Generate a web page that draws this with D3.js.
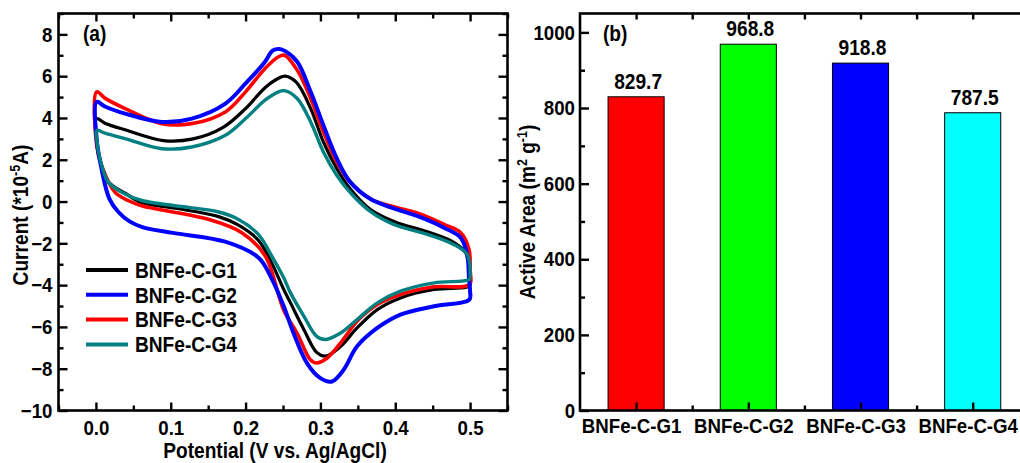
<!DOCTYPE html>
<html>
<head>
<meta charset="utf-8">
<script src="https://cdn.jsdelivr.net/npm/d3@7"></script>
<style>
  html, body { margin: 0; padding: 0; background: #fff; }
  svg { display: block; }
  text { font-family: "Liberation Sans", Arial, sans-serif; font-weight: bold; fill: #000; }
</style>
</head>
<body>
<svg id="fig" width="1020" height="463"></svg>
<script>
// ---- data ----------------------------------------------------------------
const samples = ["BNFe-C-G1", "BNFe-C-G2", "BNFe-C-G3", "BNFe-C-G4"];
const activeArea = [829.7, 968.8, 918.8, 787.5];           // m^2 g^-1

// Cyclic voltammograms: [potential (V vs. Ag/AgCl), current (*10^-5 A)]
// forward sweep 0 -> 0.5 V, then reverse sweep 0.5 -> 0 V
const cvG1 = [
  [0.001, 3.97], [0.012, 3.75], [0.04, 3.42], [0.09, 2.92], [0.13, 3.0], [0.17, 3.55],
  [0.2, 4.45], [0.226, 5.45], [0.244, 5.9], [0.253, 6.0], [0.268, 5.7], [0.287, 4.45],
  [0.304, 2.85], [0.322, 1.57], [0.34, 0.6], [0.367, -0.38], [0.4, -0.98], [0.443, -1.45],
  [0.478, -1.95], [0.494, -2.45], [0.499, -3.2], [0.5, -4.0],
  [0.495, -4.1], [0.452, -4.21], [0.407, -4.61], [0.376, -5.17], [0.349, -6.05], [0.327, -6.93],
  [0.307, -7.4], [0.295, -7.22], [0.278, -6.13], [0.26, -4.85], [0.251, -4.21], [0.235, -2.95],
  [0.217, -1.85], [0.19, -1.12], [0.164, -0.72], [0.106, -0.32], [0.061, -0.05], [0.039, 0.4],
  [0.0165, 0.95], [0.0054, 2.0], [0.001, 2.8]
];
const cvG2 = [
  [0.001, 4.77], [0.012, 4.55], [0.039, 4.21], [0.088, 3.81], [0.128, 3.97], [0.173, 4.69],
  [0.2, 5.65], [0.226, 6.69], [0.236, 7.22], [0.245, 7.3], [0.253, 7.2], [0.269, 6.69],
  [0.287, 5.25], [0.304, 3.65], [0.322, 2.05], [0.34, 0.93], [0.367, 0.12], [0.398, -0.33],
  [0.429, -0.69], [0.465, -1.25], [0.4875, -1.73], [0.4964, -2.61], [0.4986, -3.73], [0.5, -4.29],
  [0.499, -4.69], [0.452, -5.01], [0.407, -5.41], [0.376, -6.05], [0.349, -6.93], [0.331, -8.05],
  [0.3155, -8.61], [0.3, -8.45], [0.282, -7.73], [0.264, -6.29], [0.251, -5.01], [0.235, -3.7],
  [0.2174, -2.69], [0.1727, -1.92], [0.1026, -1.5], [0.062, -1.22], [0.045, -0.95], [0.03, -0.5],
  [0.018, 0.13], [0.0075, 1.57], [0.001, 3.0]
];
const cvG3 = [
  [0.001, 5.25], [0.012, 4.95], [0.039, 4.45], [0.088, 3.73], [0.128, 3.73], [0.173, 4.29],
  [0.2, 5.25], [0.226, 6.37], [0.244, 6.93], [0.252, 7.0], [0.269, 6.29], [0.287, 4.93],
  [0.304, 3.33], [0.322, 1.89], [0.34, 0.93], [0.367, 0.12], [0.398, -0.25], [0.432, -0.58],
  [0.465, -1.09], [0.4875, -1.49], [0.4986, -2.29], [0.5, -3.25],
  [0.499, -3.97], [0.452, -4.08], [0.407, -4.45], [0.376, -4.93], [0.349, -5.73], [0.327, -6.77],
  [0.309, -7.49], [0.295, -7.73], [0.2866, -7.57], [0.2687, -6.29], [0.251, -5.2], [0.2263, -2.61],
  [0.195, -1.49], [0.15, -0.85], [0.083, -0.37], [0.061, -0.2], [0.043, 0.05], [0.0254, 0.45],
  [0.0075, 1.73], [0.001, 2.69]
];
const cvG4 = [
  [0.001, 3.41], [0.012, 3.28], [0.04, 3.0], [0.088, 2.53], [0.128, 2.61], [0.173, 3.17],
  [0.2, 3.97], [0.226, 4.85], [0.244, 5.25], [0.253, 5.3], [0.269, 4.93], [0.287, 3.81],
  [0.304, 2.37], [0.322, 1.25], [0.342, 0.35], [0.367, -0.48], [0.398, -1.09], [0.443, -1.57],
  [0.478, -2.05], [0.496, -2.53], [0.5, -3.57],
  [0.499, -3.73], [0.452, -3.89], [0.407, -4.29], [0.376, -4.85], [0.349, -5.65], [0.327, -6.29],
  [0.307, -6.6], [0.295, -6.45], [0.278, -5.49], [0.26, -4.37], [0.251, -3.65], [0.235, -2.61],
  [0.217, -1.57], [0.19, -0.85], [0.164, -0.5], [0.106, -0.2], [0.061, 0.05], [0.039, 0.36],
  [0.0165, 0.93], [0.0054, 2.05], [0.001, 3.0]
];

const potentialTicks = [0.0, 0.1, 0.2, 0.3, 0.4, 0.5];
const potentialMinor = [-0.05, 0.05, 0.15, 0.25, 0.35, 0.45, 0.55];
const currentTicks = [-10, -8, -6, -4, -2, 0, 2, 4, 6, 8];
const currentMinor = [-9, -7, -5, -3, -1, 1, 3, 5, 7, 9];
const areaTicks = [0, 200, 400, 600, 800, 1000];
const areaMinor = [100, 300, 500, 700, 900];

// ---- drawing -------------------------------------------------------------
const svg = d3.select("#fig");
const TICK_FONT = 21;
const LABEL_FONT = 21.5;
const SQUEEZE = 0.89;            // narrow, Arial-like export look

const plotTop = 13.5, plotBottom = 410.5;

function styleAxis(g) {
  g.attr("font-size", null).attr("font-family", null);
  g.select(".domain").remove();
  g.selectAll(".tick line").attr("stroke", "#000").attr("stroke-width", 2.4);
  g.selectAll(".tick text").style("font-size", TICK_FONT + "px");
}

function frame(x0, x1) {
  svg.append("rect")
    .attr("x", x0).attr("y", plotTop)
    .attr("width", x1 - x0).attr("height", plotBottom - plotTop)
    .attr("fill", "none").attr("stroke", "#000").attr("stroke-width", 2.6);
}

// ===== panel (a): cyclic voltammetry =====
const xA = d3.scaleLinear().domain([-0.05, 0.55]).range([58.5, 507.5]);
const yA = d3.scaleLinear().domain([-10, 9]).range([plotBottom, plotTop]);

const gA = svg.append("g");

// bottom axis
gA.append("g").attr("transform", `translate(0,${plotBottom})`)
  .call(d3.axisBottom(xA).tickValues(potentialTicks).tickSize(-8).tickPadding(9.5).tickFormat(d3.format(".1f")))
  .call(styleAxis);
gA.append("g").attr("transform", `translate(0,${plotBottom})`)
  .call(d3.axisBottom(xA).tickValues(potentialMinor).tickSize(-5).tickFormat(""))
  .call(styleAxis);
// top mirror
gA.append("g").attr("transform", `translate(0,${plotTop})`)
  .call(d3.axisTop(xA).tickValues(potentialTicks).tickSize(-8).tickFormat(""))
  .call(styleAxis);
gA.append("g").attr("transform", `translate(0,${plotTop})`)
  .call(d3.axisTop(xA).tickValues(potentialMinor).tickSize(-5).tickFormat(""))
  .call(styleAxis);
// left axis
gA.append("g").attr("transform", `translate(${xA.range()[0]},0)`)
  .call(d3.axisLeft(yA).tickValues(currentTicks).tickSize(-9).tickPadding(6).tickFormat(d3.format("d")))
  .call(styleAxis);
gA.append("g").attr("transform", `translate(${xA.range()[0]},0)`)
  .call(d3.axisLeft(yA).tickValues(currentMinor).tickSize(-5).tickFormat(""))
  .call(styleAxis);
// right mirror
gA.append("g").attr("transform", `translate(${xA.range()[1]},0)`)
  .call(d3.axisRight(yA).tickValues(currentTicks).tickSize(-9).tickFormat(""))
  .call(styleAxis);
gA.append("g").attr("transform", `translate(${xA.range()[1]},0)`)
  .call(d3.axisRight(yA).tickValues(currentMinor).tickSize(-5).tickFormat(""))
  .call(styleAxis);

// curves (drawing order keeps G4 and G2 on top where they overlap)
const cvSeries = [
  { name: samples[0], data: cvG1, color: "#000000", width: 3.2 },
  { name: samples[2], data: cvG3, color: "#ff0000", width: 3.6 },
  { name: samples[1], data: cvG2, color: "#0000ff", width: 4.0 },
  { name: samples[3], data: cvG4, color: "#008080", width: 3.4 }
];
const cvLine = d3.line()
  .x(d => xA(d[0])).y(d => yA(d[1]))
  .curve(d3.curveCatmullRomClosed.alpha(0.5));

gA.selectAll("path.cv").data(cvSeries).join("path")
  .attr("class", "cv")
  .attr("d", d => cvLine(d.data))
  .attr("fill", "none")
  .attr("stroke", d => d.color)
  .attr("stroke-width", d => d.width)
  .attr("stroke-linejoin", "round");

// legend
const legendOrder = [
  { name: samples[0], color: "#000000" },
  { name: samples[1], color: "#0000ff" },
  { name: samples[2], color: "#ff0000" },
  { name: samples[3], color: "#008080" }
];
const leg = gA.append("g").attr("transform", "translate(86,270)");
const legItem = leg.selectAll("g").data(legendOrder).join("g")
  .attr("transform", (d, i) => `translate(0,${i * 24.8})`);
legItem.append("line")
  .attr("x1", 0).attr("x2", 42).attr("y1", 0).attr("y2", 0)
  .attr("stroke", d => d.color).attr("stroke-width", 4);
legItem.append("text")
  .attr("x", 49).attr("dy", "0.36em")
  .style("font-size", LABEL_FONT + "px")
  .text(d => d.name);

// titles
gA.append("text").attr("x", 83).attr("y", 41.5).style("font-size", LABEL_FONT + "px").text("(a)");
gA.append("text")
  .attr("x", 275).attr("y", 458.5)
  .attr("text-anchor", "middle")
  .style("font-size", LABEL_FONT + "px")
  .text("Potential (V vs. Ag/AgCl)");
const yTitleA = gA.append("text")
  .attr("transform", "translate(28,215) rotate(-90)")
  .attr("text-anchor", "middle")
  .style("font-size", LABEL_FONT + "px");
yTitleA.append("tspan").text("Current (*10");
yTitleA.append("tspan").attr("dy", -8).style("font-size", "14px").text("-5");
yTitleA.append("tspan").attr("dy", 8).text("A)");

// ===== panel (b): active area bars =====
const xB = d3.scaleLinear().domain([-0.5, 3.5]).range([580, 1028.8]);
const yB = d3.scaleLinear().domain([0, 1050]).range([plotBottom, plotTop]);
const barColors = ["#ff0000", "#00ff00", "#0000ff", "#00ffff"];
const step = xB(1) - xB(0);
const barW = step * 0.5;

const gB = svg.append("g");

gB.selectAll("rect.bar").data(activeArea).join("rect")
  .attr("class", "bar")
  .attr("x", (d, i) => xB(i) - barW / 2)
  .attr("y", d => yB(d))
  .attr("width", barW)
  .attr("height", d => yB(0) - yB(d))
  .attr("fill", (d, i) => barColors[i])
  .attr("stroke", "#000").attr("stroke-width", 1);

gB.selectAll("text.val").data(activeArea).join("text")
  .attr("class", "val")
  .attr("x", (d, i) => xB(i) + 2)
  .attr("y", d => yB(d) - 8)
  .attr("text-anchor", "middle")
  .style("font-size", LABEL_FONT + "px")
  .text(d => d.toFixed(1));

// bottom axis with sample names
const catIdx = samples.map((s, i) => i);
gB.append("g").attr("transform", `translate(0,${plotBottom})`)
  .call(d3.axisBottom(xB).tickValues(catIdx).tickSize(-8).tickPadding(8).tickFormat(i => samples[i]))
  .call(styleAxis)
  .call(g => g.selectAll(".tick text").attr("x", -5));
gB.append("g").attr("transform", `translate(0,${plotBottom})`)
  .call(d3.axisBottom(xB).tickValues([0.5, 1.5, 2.5]).tickSize(-5).tickFormat(""))
  .call(styleAxis);
gB.append("g").attr("transform", `translate(0,${plotTop})`)
  .call(d3.axisTop(xB).tickValues([0, 0.5, 1, 1.5, 2, 2.5, 3]).tickSize(-6).tickFormat(""))
  .call(styleAxis);
// left axis
gB.append("g").attr("transform", `translate(${xB.range()[0]},0)`)
  .call(d3.axisLeft(yB).tickValues(areaTicks).tickSize(-9).tickPadding(5).tickFormat(d3.format("d")))
  .call(styleAxis);
gB.append("g").attr("transform", `translate(${xB.range()[0]},0)`)
  .call(d3.axisLeft(yB).tickValues(areaMinor).tickSize(-5).tickFormat(""))
  .call(styleAxis);

gB.append("text").attr("x", 603).attr("y", 41.5).style("font-size", LABEL_FONT + "px").text("(b)");
const yTitleB = gB.append("text")
  .attr("transform", "translate(535,212) rotate(-90)")
  .attr("text-anchor", "middle")
  .style("font-size", LABEL_FONT + "px");
yTitleB.append("tspan").text("Active Area (m");
yTitleB.append("tspan").attr("dy", -8).style("font-size", "14px").text("2");
yTitleB.append("tspan").attr("dy", 8).text(" g");
yTitleB.append("tspan").attr("dy", -8).style("font-size", "14px").text("-1");
yTitleB.append("tspan").attr("dy", 8).text(")");

frame(xA.range()[0], xA.range()[1]);
frame(xB.range()[0], xB.range()[1]);

// narrow every label horizontally around its own anchor point
svg.selectAll("text").each(function () {
  const t = d3.select(this);
  const x = +(t.attr("x") || 0);
  const prev = t.attr("transform") || "";
  t.attr("transform", `${prev} translate(${x},0) scale(${SQUEEZE},1) translate(${-x},0)`.trim());
});
</script>
</body>
</html>
